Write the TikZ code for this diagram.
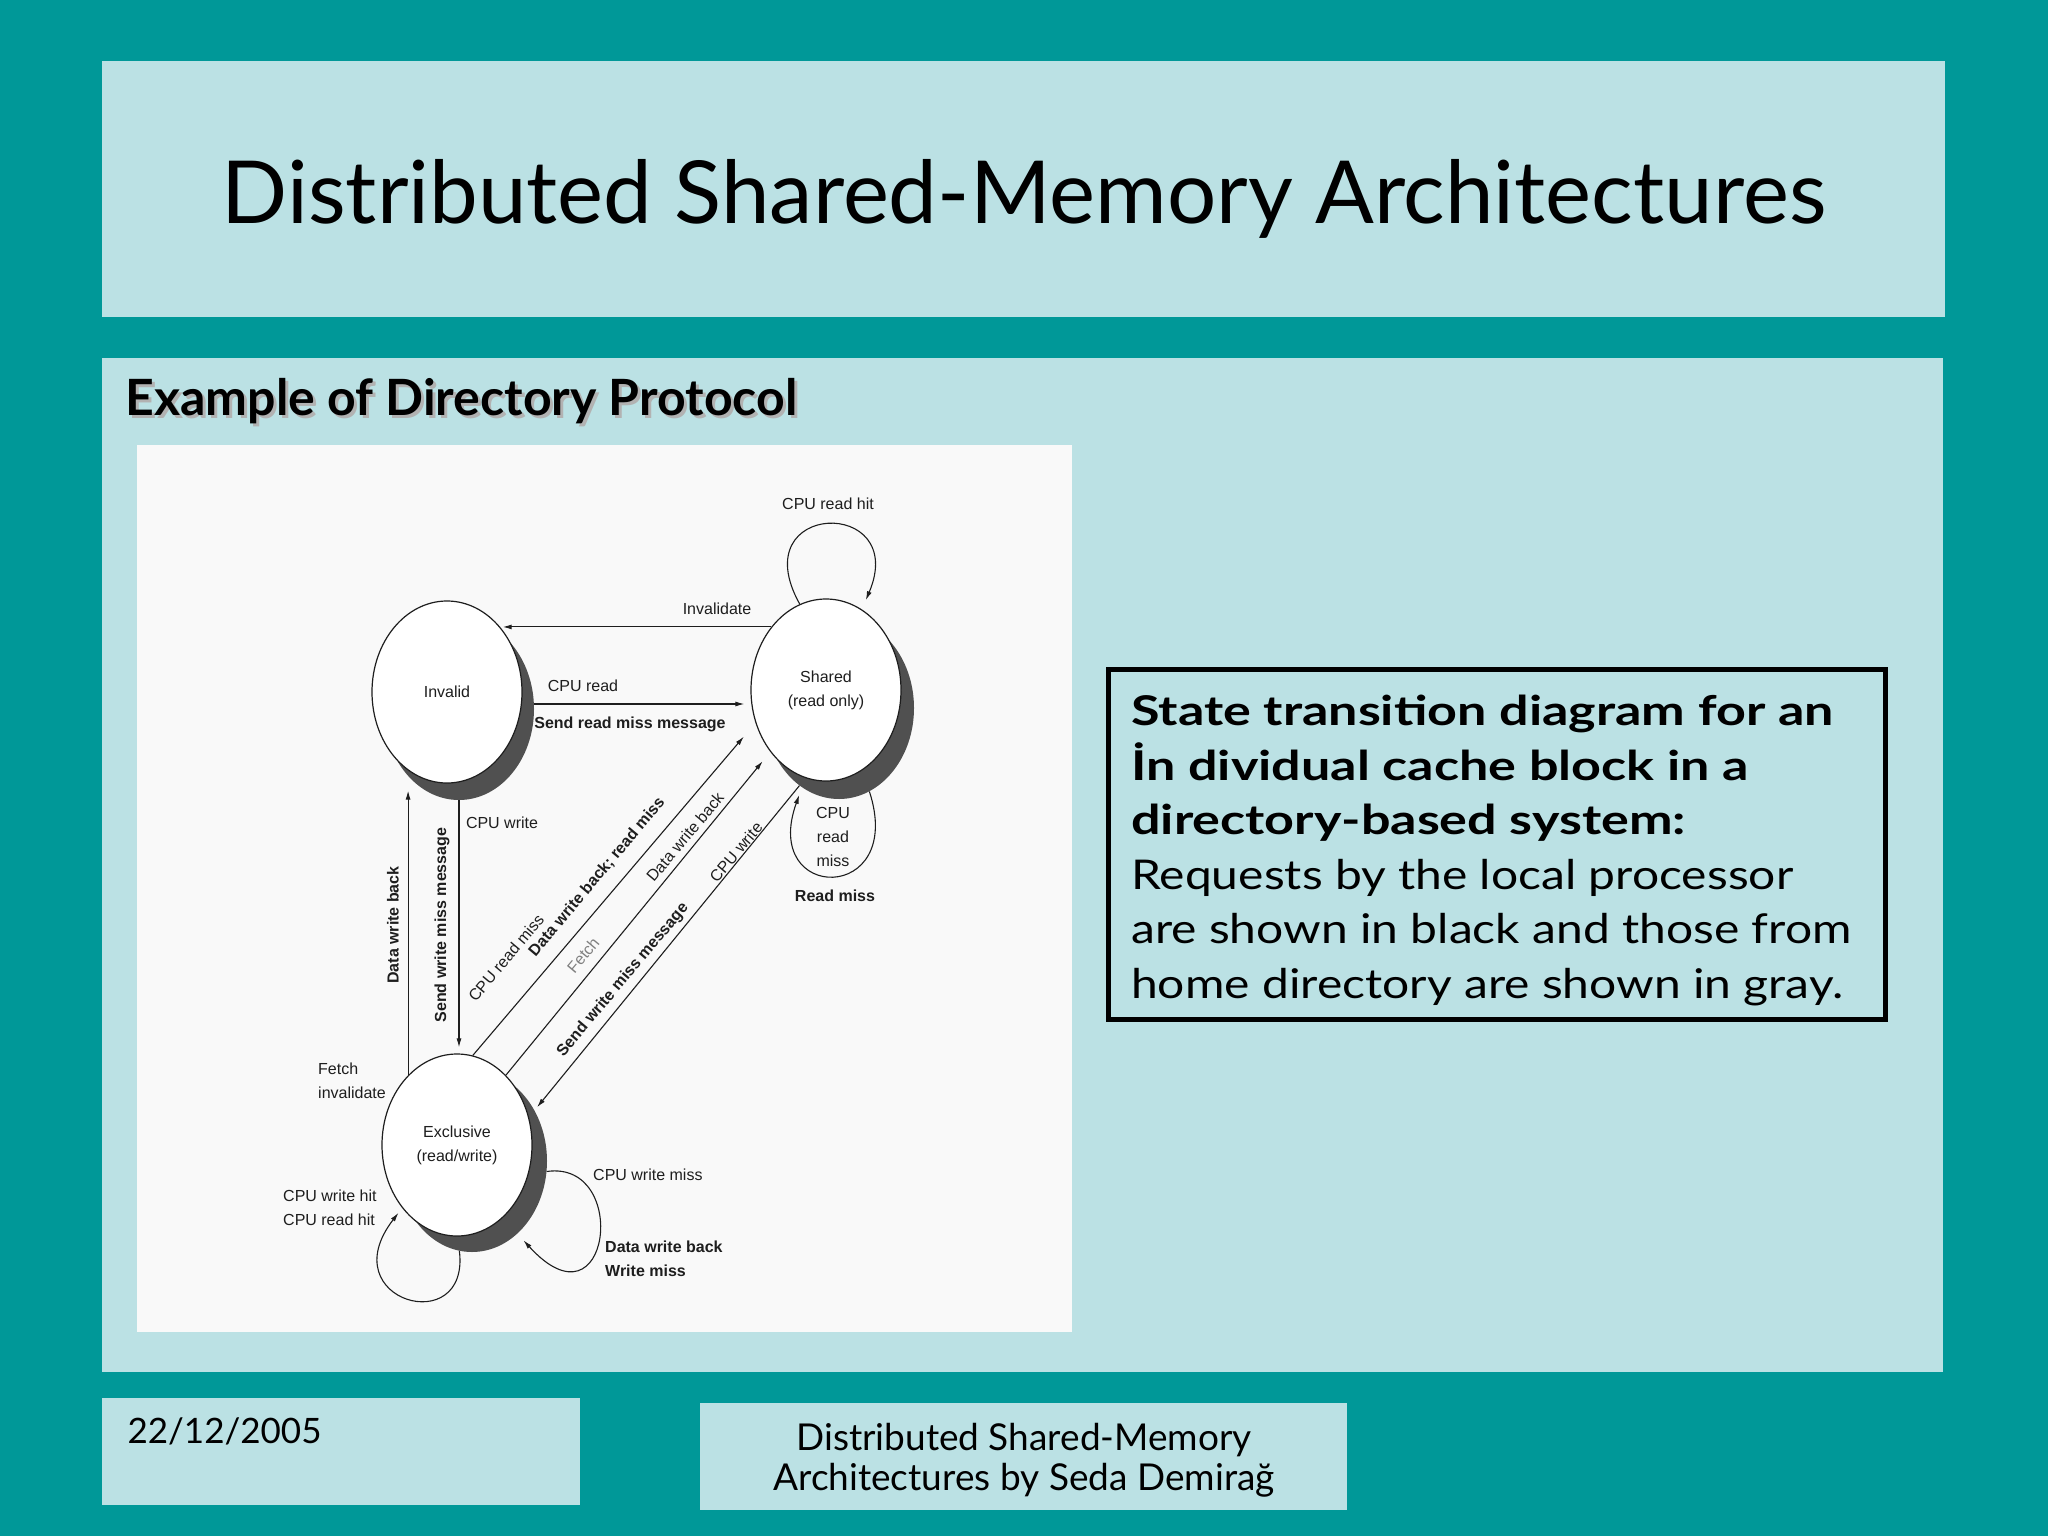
\documentclass[tikz,border=0pt]{standalone}
\usepackage{fontspec}
\setmainfont{Lato}
\newfontfamily\capfont[FakeStretch=1.17]{Lato}
\newfontfamily\capbold[FakeStretch=1.27]{Lato}
\newfontfamily\figfont{Liberation Sans}
\usepackage{xcolor}
\definecolor{slTeal}{RGB}{0,152,152}
\definecolor{slPanel}{RGB}{187,225,228}
\definecolor{slPaper}{RGB}{249,249,249}
\definecolor{slShade}{RGB}{80,80,80}
\definecolor{slInk}{RGB}{30,30,30}
\usepackage{tikz}
\usetikzlibrary{shapes.geometric,arrows.meta}

\begin{document}
\begin{tikzpicture}[x=1pt,y=-1pt,
  panel/.style={fill=slPanel},
  st/.style={ellipse,draw=slInk,fill=white,line width=1.2pt,minimum width=150pt,minimum height=182pt,inner sep=0pt,font=\figfont\fontsize{16}{24}\selectfont,align=center,text=slInk},
  sh/.style={ellipse,fill=slShade,minimum width=150pt,minimum height=182pt,inner sep=0pt},
  lb/.style={font=\figfont\fontsize{16}{24}\selectfont,text=slInk,inner sep=0pt},
  bl/.style={lb,font=\figfont\bfseries\fontsize{16}{24}\selectfont},
  gl/.style={lb,text=black!50},
  a/.style={-{Latex[length=9pt,width=5pt]},draw=slInk,line width=1.1pt}]
  % slide background and panels
  \fill[slTeal] (0,0) rectangle (2048,1536);
  \fill[panel] (102,61) rectangle (1945,317);
  \fill[panel] (102,358) rectangle (1943,1372);
  \fill[panel] (102,1398) rectangle (580,1505);
  \fill[panel] (700,1403) rectangle (1347,1510);
  \fill[slPaper] (137,445) rectangle (1072,1332);
  \node[font=\fontsize{87}{92}\selectfont,anchor=base] (title) at (1024,223) {Distributed Shared-Memory Architectures};
  \node[font=\bfseries\fontsize{50}{56}\selectfont,anchor=base west,text=black!30] (subS) at (125,418) {Example of Directory Protocol};
  \node[font=\bfseries\fontsize{50}{56}\selectfont,anchor=base west] (sub) at (122,415) {Example of Directory Protocol};

  % states
  \node[sh] (invS) at (459,709) {};
  \node[st] (inv) at (447,692) {Invalid};
  \node[sh] (shrS) at (839,708) {};
  \node[st] (shr) at (826,690) {Shared\\(read only)};
  \node[sh] (excS) at (472,1161) {};
  \node[st] (exc) at (457,1145) {Exclusive\\(read/write)};

  % transitions
  \draw[a] (shr.131) -- (shr.131 -| inv.48);
  \draw[a,shorten >=6pt] ([yshift=5pt]invS.east) -- ([yshift=5pt]invS.east -| shr.west);
  \draw[a,shorten >=18pt] (exc.80) -- (shr.205);
  \draw[a,shorten >=12pt] (exc.55) -- (shr.228);
  \draw[a,shorten >=4pt] (shrS.243) -- (excS.39);
  \draw[a,shorten >=7pt] (exc.125) -- (exc.125 |- inv.south);
  \draw[a,shorten >=6pt] (invS.south) -- (invS.south |- exc.north);
  \draw[a,shorten >=10pt] (shr.107) .. controls +(-58,-104) and +(48,-113) .. (shr.66);
  \draw[a,shorten >=8pt] (shrS.290) .. controls +(37,113) and +(-42,116) .. (shrS.245);
  \draw[a,shorten >=6pt] (excS.262) .. controls +(11,89) and +(-72,93) .. (exc.229);
  \draw[a,shorten >=9pt] (excS.352) .. controls +(84,-12) and +(93,102) .. (excS.302);

  % labels
  \node[lb] (lReadHit) at (828,504) {CPU read hit};
  \node[lb] (lInvalidate) at (717,609) {Invalidate};
  \node[lb] (lCpuRead) at (583,686) {CPU read};
  \node[bl] (lSendRead) at (630,724) {Send read miss message};
  \node[lb,align=center] (lRdMiss) at (833,837) {CPU\\read\\miss};
  \node[bl] (lReadMiss) at (835,896) {Read miss};
  \node[lb] (lCpuWrite) at (502,823) {CPU write};
  \node[bl,rotate=90] (lWbUp) at (393,925) {Data write back};
  \node[bl,rotate=90] (lSendWr) at (442,925) {Send write miss message};
  \node[lb,rotate=50] (lRdMissD) at (506,958) {CPU read miss};
  \node[bl,rotate=50] (lWbRd) at (597,877) {Data write back; read miss};
  \node[gl,rotate=50] (lFetch) at (583,955) {Fetch};
  \node[lb,rotate=50] (lWbD) at (685,837) {Data write back};
  \node[bl,rotate=50] (lSendWrD) at (623,980) {Send write miss message};
  \node[lb,rotate=50] (lCpuWrD) at (736,852) {CPU write};
  \node[lb,align=left,anchor=west] (lFetchInv) at (318,1081) {Fetch\\invalidate};
  \node[lb,align=left,anchor=west] (lHits) at (283,1208) {CPU write hit\\CPU read hit};
  \node[lb,anchor=west] (lWrMiss) at (593,1175) {CPU write miss};
  \node[bl,align=left,anchor=west] (lWbWm) at (605,1259) {Data write back\\Write miss};

  % caption box
  \draw[line width=5pt] (1108.5,669.5) rectangle (1885.5,1019.5);
  \node[anchor=north west,align=left,inner sep=0pt,font=\capfont\fontsize{41}{54.5}\selectfont] (note) at (1131,695)
    {{\capbold\bfseries State transition diagram for an}\\{\capbold\bfseries İn dividual cache block in a}\\{\capbold\bfseries directory-based system:}\\Requests by the local processor\\are shown in black and those from\\home directory are shown in gray.};

  % footer
  \node[font=\fontsize{35}{40}\selectfont,anchor=base west] (date) at (124,1443) {22/12/2005};
  \node[font=\fontsize{37}{40}\selectfont,align=center,anchor=north] (foot) at (1024,1420) {Distributed Shared-Memory\\Architectures by Seda Demirağ};
\end{tikzpicture}
\end{document}
